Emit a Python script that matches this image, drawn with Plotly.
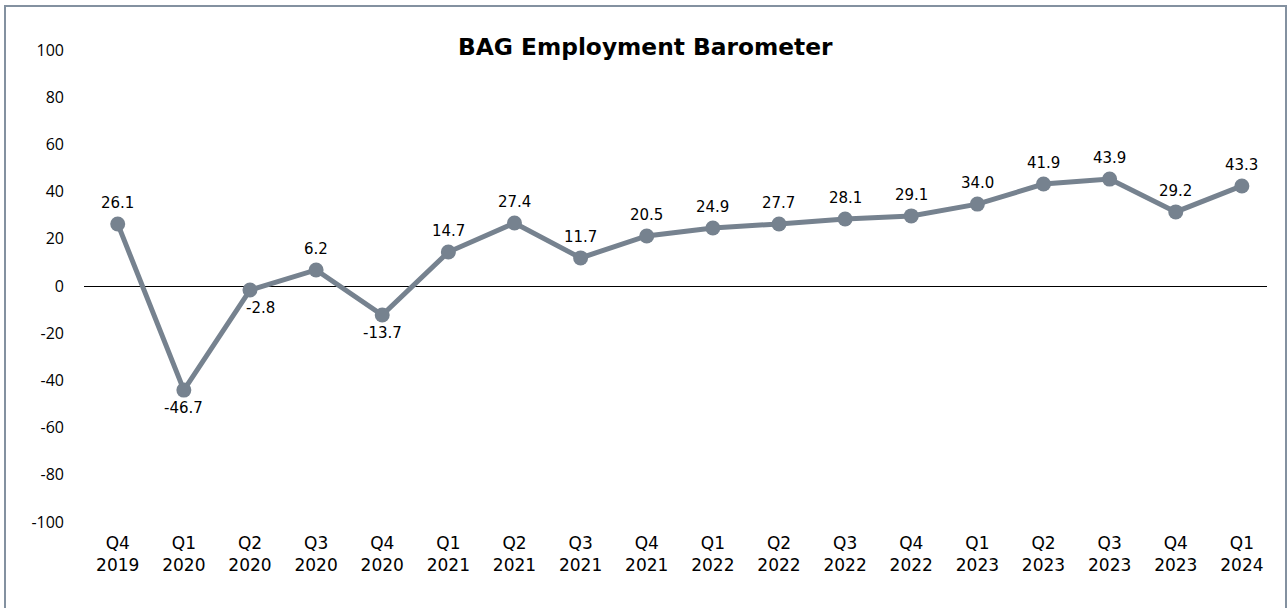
import plotly.graph_objects as go

categories = ["Q4<br>2019", "Q1<br>2020", "Q2<br>2020", "Q3<br>2020", "Q4<br>2020",
              "Q1<br>2021", "Q2<br>2021", "Q3<br>2021", "Q4<br>2021",
              "Q1<br>2022", "Q2<br>2022", "Q3<br>2022", "Q4<br>2022",
              "Q1<br>2023", "Q2<br>2023", "Q3<br>2023", "Q4<br>2023", "Q1<br>2024"]
# plotted point positions
values = [26.3, -44.1, -1.7, 6.8, -12.3, 14.4, 26.7, 11.9, 21.2,
          24.6, 26.3, 28.4, 29.7, 34.7, 43.2, 45.3, 31.4, 42.4]
# data labels shown on the chart
label_values = [26.1, -46.7, -2.8, 6.2, -13.7, 14.7, 27.4, 11.7, 20.5,
                24.9, 27.7, 28.1, 29.1, 34.0, 41.9, 43.9, 29.2, 43.3]
y_ticks = [-100, -80, -60, -40, -20, 0, 20, 40, 60, 80, 100]
y_tick_text = [str(v) for v in y_ticks]

LINE = "#76828f"
x_idx = list(range(len(categories)))

fig = go.Figure()
fig.add_trace(go.Scatter(
    x=x_idx, y=values, mode="lines+markers",
    line=dict(color=LINE, width=5),
    marker=dict(color=LINE, size=15),
    cliponaxis=False,
    hoverinfo="skip",
))

annotations = []
for i, (v, lab) in enumerate(zip(values, label_values)):
    below = lab < 0
    annotations.append(dict(
        x=i, y=v, xref="x", yref="y", text=f"{lab:.1f}", showarrow=False,
        xanchor="center", yanchor="middle",
        yshift=-18 if below else 21,
        xshift=11 if i == 2 else 0,
        font=dict(family="DejaVu Sans", size=15, color="#000000"),
    ))

L, R, T, B = 84, 1267, 50, 522
W, H = R - L, B - T

def px(x):
    return (x - L) / W

def py(y):
    return (B - y) / H

annotations.append(dict(
    text="<b>BAG Employment Barometer</b>", xref="paper", yref="paper",
    x=px(645), y=py(47), xanchor="center", yanchor="middle", showarrow=False,
    font=dict(family="DejaVu Sans", size=23.3, color="#000000"),
))

fig.update_layout(
    width=1288, height=608,
    margin=dict(l=L, r=1288 - R, t=T, b=608 - B, pad=0),
    paper_bgcolor="white", plot_bgcolor="white",
    showlegend=False,
    xaxis=dict(range=[-0.51, 17.38], tickvals=x_idx, ticktext=categories,
               showgrid=False, zeroline=False, showline=False, ticks="",
               ticklabelstandoff=9,
               tickfont=dict(family="DejaVu Sans", size=17, color="#000000")),
    yaxis=dict(range=[-100, 100], tickvals=y_ticks, ticktext=y_tick_text,
               showgrid=False,
               zeroline=True, zerolinecolor="#000000", zerolinewidth=1,
               showline=False, ticks="", ticklabelstandoff=19,
               tickfont=dict(family="Open Sans", size=16, color="#000000")),
    annotations=annotations,
    shapes=[dict(type="rect", xref="paper", yref="paper",
                 x0=px(5), x1=px(1286), y0=py(640), y1=py(6),
                 line=dict(color="#8391a0", width=2), layer="below")],
)

fig.write_html("out.html", config={"displayModeBar": False},
               post_script="document.body.style.margin='0';")
